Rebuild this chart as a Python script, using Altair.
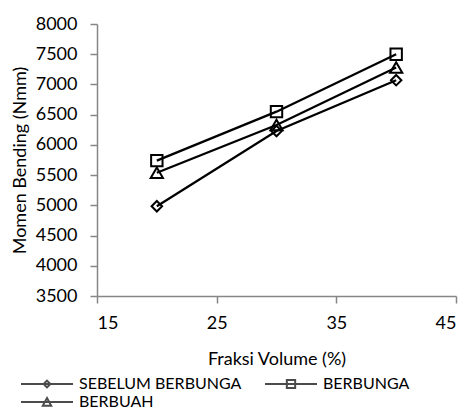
import altair as alt
import pandas as pd

fraksi = [20, 30, 40]
series_names = ["SEBELUM BERBUNGA", "BERBUNGA", "BERBUAH"]
sebelum_berbunga = [4985, 6230, 7070]
berbunga = [5740, 6550, 7500]
berbuah = [5540, 6330, 7280]

rows = []
for name, vals in zip(series_names, [sebelum_berbunga, berbunga, berbuah]):
    for x, y in zip(fraksi, vals):
        rows.append({"fraksi": x, "momen": y, "series": name})
df = pd.DataFrame(rows)

FONT = "Lato"
shapes_plot = ["diamond", "square", "triangle-up"]
sizes_plot = [110, 150, 150]
# legend symbols: line with marker in the middle (unit coordinates)
shapes_legend = [
    "M-1,0H1M0,-0.13L0.13,0L0,0.13L-0.13,0Z",
    "M-1,0H1M-0.16,-0.15H0.16V0.15H-0.16Z",
    "M-1,0H1M0,-0.15L0.16,0.14H-0.16Z",
]

x_enc = alt.X("fraksi:Q", title="Fraksi Volume (%)",
              scale=alt.Scale(domain=[15, 45], nice=False, zero=False),
              axis=alt.Axis(values=[15, 25, 35, 45], grid=False, labelPadding=11,
                            titleY=68, titleBaseline="alphabetic"))
y_enc = alt.Y("momen:Q", title="Momen Bending (Nmm)",
              scale=alt.Scale(domain=[3500, 8000], nice=False, zero=False),
              axis=alt.Axis(values=list(range(3500, 8001, 500)), format="d", grid=False,
                            labelPadding=13,
                            titleX=-72, titleY=136, titleAngle=-90, titleBaseline="alphabetic",
                            titleAlign="center"))

base = alt.Chart(df)

lines = base.mark_line(color="black", strokeWidth=2.25).encode(
    x=x_enc, y=y_enc, detail="series:N"
)

points = base.mark_point(filled=False, color="black", strokeWidth=2, opacity=1).encode(
    x=x_enc, y=y_enc,
    shape=alt.Shape("series:N", scale=alt.Scale(domain=series_names, range=shapes_plot), legend=None),
    size=alt.Size("series:N", scale=alt.Scale(domain=series_names, range=sizes_plot), legend=None),
)

legend_layer = base.transform_filter("datum.fraksi < 0").mark_point(
    filled=False, color="black", strokeWidth=2
).encode(
    x=x_enc, y=y_enc,
    shape=alt.Shape("series:N", scale=alt.Scale(domain=series_names, range=shapes_legend),
                    legend=alt.Legend(title=None, orient="none", legendX=-77, legendY=351,
                                      direction="horizontal",
                                      columns=2, columnPadding=22, rowPadding=0, clipHeight=18,
                                      symbolSize=2704, symbolStrokeWidth=2,
                                      symbolStrokeColor="black", symbolFillColor="transparent",
                                      labelFont=FONT, labelFontSize=16, labelColor="black",
                                      labelLimit=400, labelOffset=5, padding=0)),
)

chart = alt.layer(lines, points, legend_layer).resolve_scale(shape="independent").properties(
    width=359, height=272,
    autosize=alt.AutoSizeParams(type="none"),
    padding={"left": 89, "top": 16, "right": 10, "bottom": 113},
).configure_view(stroke=None).configure_axis(
    domainColor="#868686", domainWidth=1.5, tickColor="#868686", tickWidth=1.5, tickSize=7,
    labelFont=FONT, labelFontSize=18, labelColor="black",
    titleFont=FONT, titleFontSize=18, titleColor="black", titleFontWeight="normal",
)

chart.save("out.html", embed_options={"renderer": "svg", "actions": False})
